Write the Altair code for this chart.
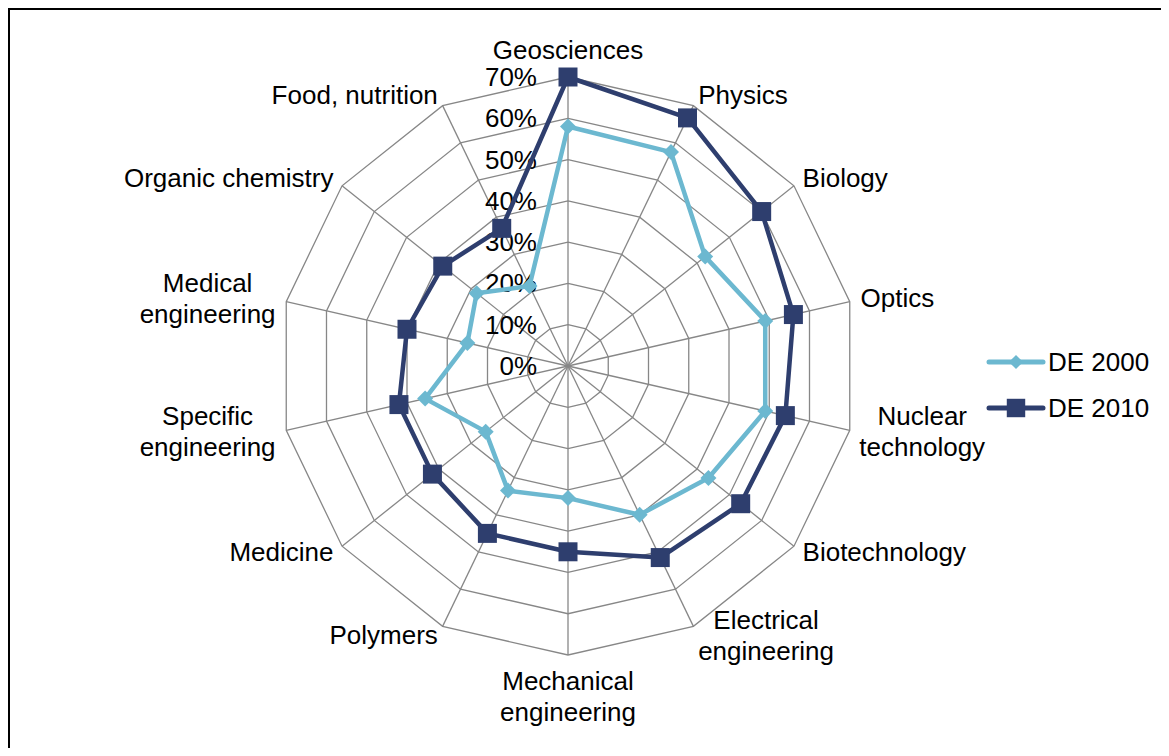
import math
import altair as alt
import pandas as pd

# ---------------- data ----------------
categories = ["Geosciences", "Physics", "Biology", "Optics", "Nuclear technology",
              "Biotechnology", "Electrical engineering", "Mechanical engineering",
              "Polymers", "Medicine", "Specific engineering", "Medical engineering",
              "Organic chemistry", "Food, nutrition"]
category_labels = ["Geosciences", "Physics", "Biology", "Optics", "Nuclear\ntechnology",
                   "Biotechnology", "Electrical\nengineering", "Mechanical\nengineering",
                   "Polymers", "Medicine", "Specific\nengineering", "Medical\nengineering",
                   "Organic chemistry", "Food, nutrition"]
de2000 = [58, 57.5, 42.5, 49, 49, 43.5, 40, 32, 33.5, 25.5, 35.5, 25, 28.3, 21.5]
de2010 = [70, 66.7, 60, 56, 54, 53.5, 51.5, 45, 45, 42, 42, 40, 38.8, 37]
series_names = ["DE 2000", "DE 2010"]
ring_levels = [10, 20, 30, 40, 50, 60, 70]
tick_values = [0, 10, 20, 30, 40, 50, 60, 70]
tick_labels = ["0%", "10%", "20%", "30%", "40%", "50%", "60%", "70%"]

# ---------------- layout / style ----------------
W, H = 1153, 740
CX, CY = 560, 358
PX = 289 / 70.0          # pixels per percentage point
FONT = "Liberation Sans"
FS = 26
LINE_H = 31
CHAR_W = 0.475 * FS
COLORS = ["#6CB8D0", "#2E3E6E"]
GRID = "#878787"

x_dom = [-CX / PX, (W - CX) / PX]
y_dom = [-(H - CY) / PX, CY / PX]
xs = alt.Scale(domain=x_dom, nice=False, zero=False)
ys = alt.Scale(domain=y_dom, nice=False, zero=False)
cscale = alt.Scale(domain=series_names, range=COLORS)
n = len(categories)

# ---------------- tables ----------------
rows = []
for s, vals in zip(series_names, [de2000, de2010]):
    for k in range(n + 1):
        i = k % n
        rows.append(dict(series=s, order=k, idx=i, cat=categories[i], value=vals[i]))
series_df = pd.DataFrame(rows)

ring_rows = []
for lv in ring_levels:
    for k in range(n + 1):
        ring_rows.append(dict(ring=lv, order=k, idx=k % n, value=lv))
ring_df = pd.DataFrame(ring_rows)

spoke_df = pd.DataFrame(dict(idx=list(range(n)), value=[ring_levels[-1]] * n))
tick_df = pd.DataFrame(dict(value=tick_values, label=tick_labels))

R_LAB = 300 / PX
lab_rows = []
for i, lab in enumerate(category_labels):
    th = 2 * math.pi * i / n
    s, c = math.sin(th), math.cos(th)
    lines = lab.split("\n")
    nl = len(lines)
    maxc = max(len(l) for l in lines)
    if abs(s) < 0.2:
        align = "center"
        x = 0.0
        y = R_LAB * c + math.copysign(nl * LINE_H / 2 / PX, c)
    else:
        y = R_LAB * c
        if nl == 1:
            align = "left" if s > 0 else "right"
            x = R_LAB * s
        else:
            align = "center"
            x = R_LAB * s + math.copysign(maxc * CHAR_W / 2 / PX, s)
    # first line is drawn at the anchor: lift block so it is centred
    y += (nl - 1) * LINE_H / 2 / PX
    lab_rows.append(dict(label=lab, lx=x, ly=y, align=align))
lab_df = pd.DataFrame(lab_rows)


def with_xy(ch):
    return ch.transform_calculate(
        theta="2*PI*datum.idx/%d" % n
    ).transform_calculate(
        px="datum.value*sin(datum.theta)",
        py="datum.value*cos(datum.theta)",
    )


X = alt.X("px:Q", scale=xs, axis=None)
Y = alt.Y("py:Q", scale=ys, axis=None)

rings = with_xy(alt.Chart(ring_df)).mark_line(color=GRID, strokeWidth=1.3).encode(
    x=X, y=Y, detail="ring:N", order="order:Q")

spokes = with_xy(alt.Chart(spoke_df)).transform_calculate(zero="0").mark_rule(
    color=GRID, strokeWidth=1.3).encode(
    x=alt.X("zero:Q", scale=xs, axis=None), y=alt.Y("zero:Q", scale=ys, axis=None),
    x2="px:Q", y2="py:Q")

ticks = alt.Chart(tick_df).transform_calculate(zero="0").mark_text(
    align="right", baseline="middle", dx=-31, dy=1, font=FONT, fontSize=FS, color="#000000").encode(
    x=alt.X("zero:Q", scale=xs, axis=None), y=alt.Y("value:Q", scale=ys, axis=None),
    text="label:N")

lines = with_xy(alt.Chart(series_df)).mark_line(strokeWidth=4.5, strokeJoin="round").encode(
    x=X, y=Y, color=alt.Color("series:N", scale=cscale, legend=None),
    detail="series:N", order="order:Q")

points = with_xy(alt.Chart(series_df)).transform_filter(
    "datum.order < %d" % n).mark_point(filled=True, opacity=1).encode(
    x=X, y=Y, color=alt.Color("series:N", scale=cscale, legend=None),
    shape=alt.Shape("series:N", scale=alt.Scale(domain=series_names, range=["diamond", "square"]), legend=None),
    size=alt.Size("series:N", scale=alt.Scale(domain=series_names, range=[256, 361]), legend=None))

label_layers = []
for al in ["left", "right", "center"]:
    label_layers.append(
        alt.Chart(lab_df).transform_filter("datum.align == '%s'" % al).mark_text(
            align=al, baseline="middle", lineBreak="\n", lineHeight=LINE_H,
            font=FONT, fontSize=FS, color="#000000").encode(
            x=alt.X("lx:Q", scale=xs, axis=None), y=alt.Y("ly:Q", scale=ys, axis=None),
            text="label:N"))

# custom legend
legend_layers = []
LEG_Y = [354, 400]
for name, ly, shp, sz in zip(series_names, LEG_Y, ["diamond", "square"], [200, 340]):
    ldf = pd.DataFrame({"series": [name]})
    col = alt.Color("series:N", scale=cscale, legend=None)
    legend_layers.append(alt.Chart(ldf).mark_rule(strokeWidth=5, strokeCap="round").encode(
        x=alt.value(981), x2=alt.value(1035), y=alt.value(ly), color=col))
    legend_layers.append(alt.Chart(ldf).mark_point(filled=True, opacity=1, shape=shp, size=sz).encode(
        x=alt.value(1008), y=alt.value(ly), color=col))
    legend_layers.append(alt.Chart(ldf).mark_text(
        align="left", baseline="middle", font=FONT, fontSize=FS, color="#000000").encode(
        x=alt.value(1040), y=alt.value(ly + 1), text="series:N"))

# frame (top and left edges)
fdf = pd.DataFrame({"f": [1]})
frame_top = alt.Chart(fdf).mark_rule(color="#000000", strokeWidth=2).encode(
    x=alt.value(0), x2=alt.value(W), y=alt.value(1))
frame_left = alt.Chart(fdf).mark_rule(color="#000000", strokeWidth=2).encode(
    x=alt.value(1), y=alt.value(0), y2=alt.value(H))

chart = alt.layer(
    rings, spokes, ticks, lines, points, *label_layers, *legend_layers, frame_top, frame_left
).properties(
    width=W, height=H, autosize=alt.AutoSizeParams(type="none"), padding=0
).configure_view(stroke=None).configure(background="#ffffff")

chart.save("out.html", embed_options={"renderer": "svg", "actions": False})
